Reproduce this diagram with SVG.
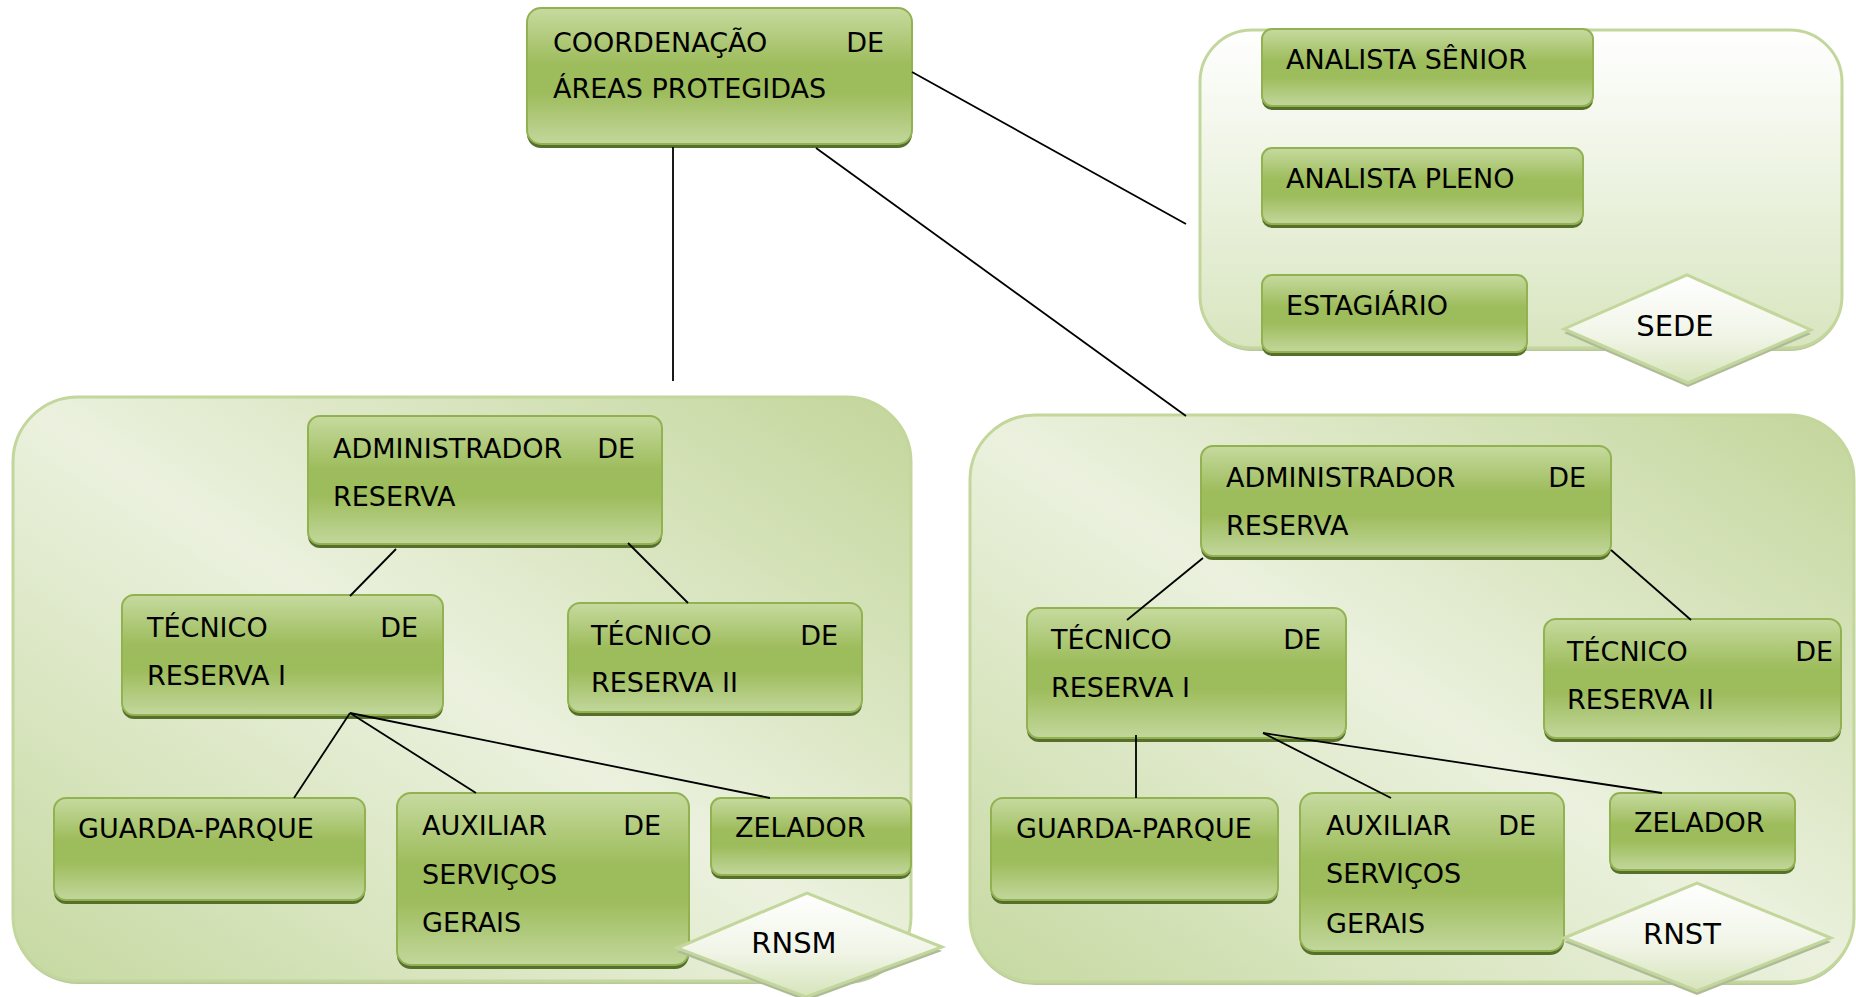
<svg xmlns="http://www.w3.org/2000/svg" width="1856" height="997" viewBox="0 0 1856 997">
<defs>
<linearGradient id="gBox" x1="0" y1="0" x2="0" y2="1">
<stop offset="0" stop-color="#c6da9f"/>
<stop offset="0.42" stop-color="#9dbc5b"/>
<stop offset="0.62" stop-color="#9dbc5b"/>
<stop offset="1" stop-color="#c2d79c"/>
</linearGradient>
<linearGradient id="gCont" x1="1" y1="0" x2="0" y2="1">
<stop offset="0" stop-color="#c3d69b"/>
<stop offset="0.5" stop-color="#ebf1de"/>
<stop offset="1" stop-color="#c6d9a1"/>
</linearGradient>
<linearGradient id="gSede" x1="0" y1="0" x2="0" y2="1">
<stop offset="0" stop-color="#ffffff"/>
<stop offset="1" stop-color="#d8e5bf"/>
</linearGradient>
<linearGradient id="gDia" x1="0" y1="0" x2="0" y2="1">
<stop offset="0" stop-color="#ffffff"/>
<stop offset="0.55" stop-color="#f1f5e8"/>
<stop offset="1" stop-color="#d6e4bb"/>
</linearGradient>
</defs>
<style>
.box{fill:url(#gBox);stroke:#92b252;stroke-width:2}
.sh{fill:#56702c}
.cont{stroke:#c3d69b;stroke-width:3}
.csh{fill:#b8c99b}
.dia{fill:url(#gDia);stroke:#c3d69b;stroke-width:3}
.dsh{fill:#aebb98}
.t{font-family:"DejaVu Sans",Verdana,sans-serif;font-size:27px;fill:#000}
.d{font-family:"DejaVu Sans",Verdana,sans-serif;font-size:29px;fill:#000;text-anchor:middle}
.e{text-anchor:end}
.conn line{stroke:#000;stroke-width:1.8}
</style>
<rect width="1856" height="997" fill="#ffffff"/>

<g id="container-sede">
<rect class="csh" x="1200" y="33" width="642" height="318" rx="52"/>
<rect class="cont" x="1200" y="30" width="642" height="318" rx="52" fill="url(#gSede)"/>
</g>
<g id="container-rnsm">
<rect class="csh" x="13" y="400" width="898" height="584" rx="65"/>
<rect class="cont" x="13" y="397" width="898" height="584" rx="65" fill="url(#gCont)"/>
</g>
<g id="container-rnst">
<rect class="csh" x="970" y="418" width="884" height="567" rx="65"/>
<rect class="cont" x="970" y="415" width="884" height="567" rx="65" fill="url(#gCont)"/>
</g>

<g id="coordenacao">
<rect class="sh" x="527" y="12" width="385" height="136" rx="14"/>
<rect class="box" x="527" y="8" width="385" height="136" rx="14"/>
<text class="t" x="553" y="52">COORDENAÇÃO</text>
<text class="t e" x="884" y="52">DE</text>
<text class="t" x="553" y="98">ÁREAS PROTEGIDAS</text>
</g>

<g id="analista-senior">
<rect class="sh" x="1262" y="33" width="331" height="77" rx="10"/>
<rect class="box" x="1262" y="29" width="331" height="77" rx="10"/>
<text class="t" x="1286" y="69">ANALISTA SÊNIOR</text>
</g>
<g id="analista-pleno">
<rect class="sh" x="1262" y="152" width="321" height="76" rx="10"/>
<rect class="box" x="1262" y="148" width="321" height="76" rx="10"/>
<text class="t" x="1286" y="188">ANALISTA PLENO</text>
</g>
<g id="estagiario">
<rect class="sh" x="1262" y="279" width="265" height="77" rx="10"/>
<rect class="box" x="1262" y="275" width="265" height="77" rx="10"/>
<text class="t" x="1286" y="315">ESTAGIÁRIO</text>
</g>
<g id="sede">
<polygon class="dsh" points="1564,333 1687,279 1811,334 1688,387"/>
<polygon class="dia" points="1564,329 1687,275 1811,330 1688,383"/>
<text class="d" x="1675" y="336">SEDE</text>
</g>

<g id="adm-rnsm">
<rect class="sh" x="308" y="420" width="354" height="128" rx="12"/>
<rect class="box" x="308" y="416" width="354" height="128" rx="12"/>
<text class="t" x="333" y="458">ADMINISTRADOR</text>
<text class="t e" x="635" y="458">DE</text>
<text class="t" x="333" y="506">RESERVA</text>
</g>
<g id="tec1-rnsm">
<rect class="sh" x="122" y="599" width="321" height="120" rx="12"/>
<rect class="box" x="122" y="595" width="321" height="120" rx="12"/>
<text class="t" x="147" y="637">TÉCNICO</text>
<text class="t e" x="418" y="637">DE</text>
<text class="t" x="147" y="685">RESERVA I</text>
</g>
<g id="tec2-rnsm">
<rect class="sh" x="568" y="607" width="294" height="109" rx="12"/>
<rect class="box" x="568" y="603" width="294" height="109" rx="12"/>
<text class="t" x="591" y="645">TÉCNICO</text>
<text class="t e" x="838" y="645">DE</text>
<text class="t" x="591" y="692">RESERVA II</text>
</g>
<g id="guarda-rnsm">
<rect class="sh" x="54" y="802" width="311" height="102" rx="12"/>
<rect class="box" x="54" y="798" width="311" height="102" rx="12"/>
<text class="t" x="78" y="838">GUARDA-PARQUE</text>
</g>
<g id="aux-rnsm">
<rect class="sh" x="397" y="797" width="292" height="172" rx="14"/>
<rect class="box" x="397" y="793" width="292" height="172" rx="14"/>
<text class="t" x="422" y="835">AUXILIAR</text>
<text class="t e" x="661" y="835">DE</text>
<text class="t" x="422" y="884">SERVIÇOS</text>
<text class="t" x="422" y="932">GERAIS</text>
</g>
<g id="zelador-rnsm">
<rect class="sh" x="711" y="802" width="200" height="77" rx="10"/>
<rect class="box" x="711" y="798" width="200" height="77" rx="10"/>
<text class="t" x="735" y="837">ZELADOR</text>
</g>
<g id="rnsm">
<polygon class="dsh" points="677,952 807,897 942,951 806,1001"/>
<polygon class="dia" points="677,948 807,893 942,947 806,997"/>
<text class="d" x="794" y="953">RNSM</text>
</g>

<g id="adm-rnst">
<rect class="sh" x="1201" y="450" width="410" height="110" rx="12"/>
<rect class="box" x="1201" y="446" width="410" height="110" rx="12"/>
<text class="t" x="1226" y="487">ADMINISTRADOR</text>
<text class="t e" x="1586" y="487">DE</text>
<text class="t" x="1226" y="535">RESERVA</text>
</g>
<g id="tec1-rnst">
<rect class="sh" x="1027" y="612" width="319" height="130" rx="12"/>
<rect class="box" x="1027" y="608" width="319" height="130" rx="12"/>
<text class="t" x="1051" y="649">TÉCNICO</text>
<text class="t e" x="1321" y="649">DE</text>
<text class="t" x="1051" y="697">RESERVA I</text>
</g>
<g id="tec2-rnst">
<rect class="sh" x="1544" y="623" width="297" height="119" rx="12"/>
<rect class="box" x="1544" y="619" width="297" height="119" rx="12"/>
<text class="t" x="1567" y="661">TÉCNICO</text>
<text class="t e" x="1833" y="661">DE</text>
<text class="t" x="1567" y="709">RESERVA II</text>
</g>
<g id="guarda-rnst">
<rect class="sh" x="991" y="802" width="287" height="102" rx="12"/>
<rect class="box" x="991" y="798" width="287" height="102" rx="12"/>
<text class="t" x="1016" y="838">GUARDA-PARQUE</text>
</g>
<g id="aux-rnst">
<rect class="sh" x="1300" y="797" width="264" height="158" rx="14"/>
<rect class="box" x="1300" y="793" width="264" height="158" rx="14"/>
<text class="t" x="1326" y="835">AUXILIAR</text>
<text class="t e" x="1536" y="835">DE</text>
<text class="t" x="1326" y="883">SERVIÇOS</text>
<text class="t" x="1326" y="933">GERAIS</text>
</g>
<g id="zelador-rnst">
<rect class="sh" x="1610" y="797" width="185" height="77" rx="10"/>
<rect class="box" x="1610" y="793" width="185" height="77" rx="10"/>
<text class="t" x="1634" y="832">ZELADOR</text>
</g>
<g id="rnst">
<polygon class="dsh" points="1564,942 1697,887 1831,942 1697,995"/>
<polygon class="dia" points="1564,938 1697,883 1831,938 1697,991"/>
<text class="d" x="1682" y="944">RNST</text>
</g>

<g id="connectors" class="conn">
<line x1="912" y1="72" x2="1186" y2="224"/>
<line x1="673" y1="147" x2="673" y2="381"/>
<line x1="816" y1="148" x2="1186" y2="416"/>
<line x1="396" y1="549" x2="350" y2="596"/>
<line x1="628" y1="543" x2="688" y2="603"/>
<line x1="350" y1="713" x2="294" y2="798"/>
<line x1="350" y1="713" x2="476" y2="793"/>
<line x1="350" y1="713" x2="770" y2="798"/>
<line x1="1203" y1="558" x2="1127" y2="620"/>
<line x1="1611" y1="550" x2="1691" y2="620"/>
<line x1="1136" y1="735" x2="1136" y2="798"/>
<line x1="1263" y1="733" x2="1391" y2="798"/>
<line x1="1263" y1="733" x2="1662" y2="793"/>
</g>
</svg>
